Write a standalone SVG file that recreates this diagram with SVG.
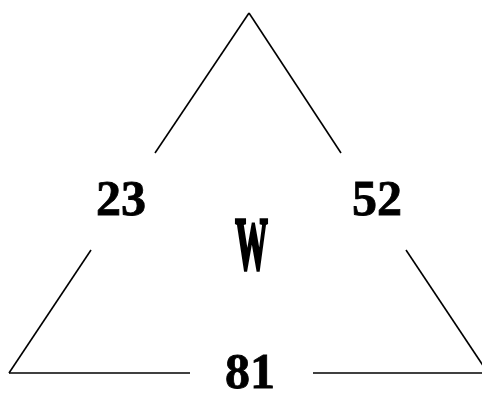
<svg xmlns="http://www.w3.org/2000/svg" width="482" height="396" viewBox="0 0 482 396">
<style>
.ln{stroke:#000;stroke-width:1.6;fill:none;stroke-linecap:butt}
.t{font-family:"Liberation Serif","Times New Roman",serif;font-weight:bold;font-size:50px;fill:#000;text-anchor:middle;stroke:#000;stroke-width:0.8}
</style>
<rect width="482" height="396" fill="#fff"/>
<g id="connectors">
<line class="ln" x1="249" y1="13" x2="155" y2="153"/>
<line class="ln" x1="91" y1="250" x2="9" y2="373"/>
<line class="ln" x1="249" y1="13" x2="341" y2="153"/>
<line class="ln" x1="406" y1="250" x2="488" y2="373"/>
<line class="ln" x1="9" y1="373" x2="190" y2="373"/>
<line class="ln" x1="313" y1="373" x2="482" y2="373"/>
</g>
<g id="n23"><text class="t" x="121" y="215">23</text></g>
<g id="n52"><text class="t" x="377" y="215">52</text></g>
<g id="nW"><text class="t" transform="translate(251.5 269) scale(0.44 1)" x="0" y="0" style="font-size:74px;stroke-width:3.5">W</text></g>
<g id="n81"><text class="t" x="250" y="388">81</text></g>
</svg>
